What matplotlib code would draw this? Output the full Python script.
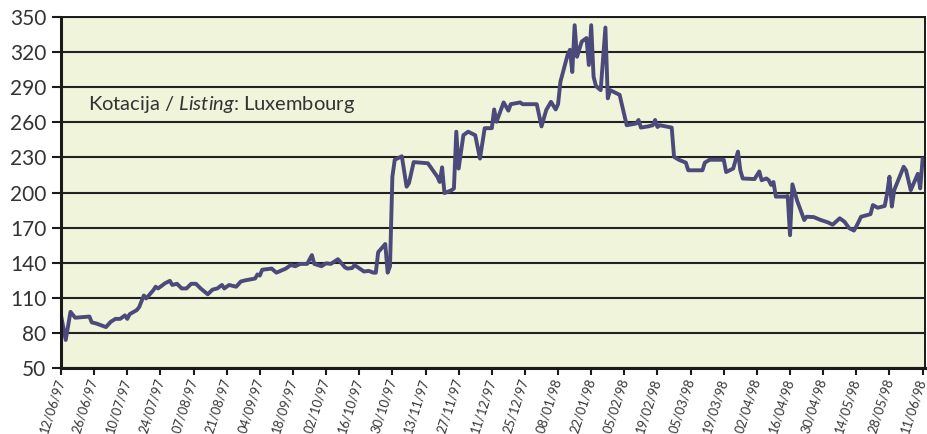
import numpy as np
import pandas as pd
import matplotlib
matplotlib.use('Agg')
import matplotlib.pyplot as plt
import matplotlib.dates as mdates

plt.rcParams['font.family'] = ['Lato', 'DejaVu Sans']
plt.rcParams['mathtext.fontset'] = 'custom'
plt.rcParams['mathtext.it'] = 'Lato:italic'

# dani od 12/06/97 i cijena
days = [0, 2, 4, 6, 12, 13, 15, 19, 21, 23, 25, 27, 28, 29, 32, 33, 35, 36, 39, 40,
        41, 44, 46, 47, 49, 51, 53, 55, 57, 59, 62, 64, 66, 68, 69, 71, 74, 76, 78, 82,
        83, 84, 85, 89, 91, 95, 97, 99, 101, 104, 106, 107, 110, 112, 114, 117, 120, 121, 123, 124,
        128, 130, 132, 133, 134, 137, 138, 139, 140, 141, 144, 146, 147, 149, 155, 159, 160, 161, 162, 165,
        166, 167, 168, 170, 172, 175, 177, 179, 182, 183, 184, 187, 189, 190, 194, 195, 201, 203, 205, 207,
        209, 210, 211, 214, 215, 216, 217, 218, 220, 222, 223, 224, 225, 226, 228, 230, 231, 232, 236, 239,
        243, 244, 245, 248, 250, 251, 252, 253, 258, 259, 261, 264, 265, 271, 272, 274, 280, 281, 284, 286,
        287, 288, 293, 295, 296, 298, 299, 300, 301, 302, 306, 307, 308, 309, 311, 314, 315, 318, 321, 324,
        326, 329, 331, 333, 335, 336, 338, 342, 343, 345, 348, 349, 350, 351, 352, 356, 357, 359, 362, 363,
        364]
price = [95, 74, 98, 93, 94, 89, 88, 85, 89.5, 92, 92, 95, 92, 96, 99.5, 102, 112, 109.5, 116.5, 119.5,
         118, 122.5, 124.5, 121, 122, 118, 118, 122, 122, 118, 113, 117, 118, 121, 118, 121, 119.5, 124, 125, 126.5,
         130, 129, 134, 135, 131.5, 135, 138, 137, 139, 139, 146.5, 139, 137, 139.5, 139, 143, 136, 135, 135.5, 138,
         132.5, 133, 131.5, 131.5, 149, 156, 131.5, 137, 213.5, 228, 231, 205, 208, 226, 225, 213.5, 209, 221.5, 199.5, 202,
         203.5, 252, 220.5, 249, 252, 249, 229, 255, 255, 271, 260.5, 277, 270, 275.5, 277, 275.5, 275.5, 256.5, 270.5, 277.5,
         271, 275.5, 294.7, 317.5, 322, 303, 343, 316, 329, 332, 309, 343, 299, 291, 287.5, 341, 280.5, 287.5, 283.5, 257.5,
         259, 262, 255.5, 256.5, 257.5, 262, 256, 257.5, 255.5, 230.5, 228, 225.5, 219, 219, 225.5, 228, 228, 217.5, 220.5, 235,
         219, 212, 211.5, 218, 210.5, 212, 210.5, 206.5, 209, 196.5, 196.5, 197, 163.5, 207, 193, 176.5, 179.3, 179, 176.5, 174.5,
         172.5, 178, 175, 169.5, 167.5, 171, 179.3, 181.5, 189.3, 187, 188.5, 199, 213.5, 188, 202, 222, 219, 202, 216, 203.5,
         228.5]

start = pd.Timestamp('1997-06-12')
dates = start + pd.to_timedelta(days, unit='D')
ticks = pd.date_range(start, periods=27, freq='14D')
yticks = np.arange(50, 351, 30)

fig = plt.figure(figsize=(9.27, 4.34), dpi=100)
ax = fig.add_axes([0.0658, 0.152, 0.932, 0.8088])
ax.set_facecolor('#eff4da')

ax.plot(dates, price, color='#4b4a7a', lw=2.8, solid_joinstyle='round')

ax.set_ylim(50, 350)
ax.set_yticks(yticks)
ax.set_xlim(start, start + pd.Timedelta(days=365))
ax.set_xticks(ticks)
ax.xaxis.set_major_formatter(mdates.DateFormatter('%d/%m/%y'))
ax.yaxis.grid(True, color='#222222', lw=1.5)
ax.set_axisbelow(True)

for s in ['left', 'bottom']:
    ax.spines[s].set_linewidth(2.2)
for s in ['top', 'right']:
    ax.spines[s].set_linewidth(1.4)
for s in ax.spines.values():
    s.set_color('#1a1a1a')

ax.tick_params(axis='y', labelsize=15, length=6.5, width=1.5, colors='#1a1a1a', labelcolor='#333333', pad=4)
ax.tick_params(axis='x', labelsize=9.3, length=5, width=1.5, colors='#1a1a1a', labelcolor='#333333', pad=3)
plt.setp(ax.get_xticklabels(), rotation=72, ha='right', va='center', rotation_mode='anchor')

ax.text(0.031, 0.752, 'Kotacija / $\\mathit{Listing}$: Luxembourg', transform=ax.transAxes,
        fontsize=14.5, color='#333333', va='center')

fig.savefig('out.png', dpi=100)
